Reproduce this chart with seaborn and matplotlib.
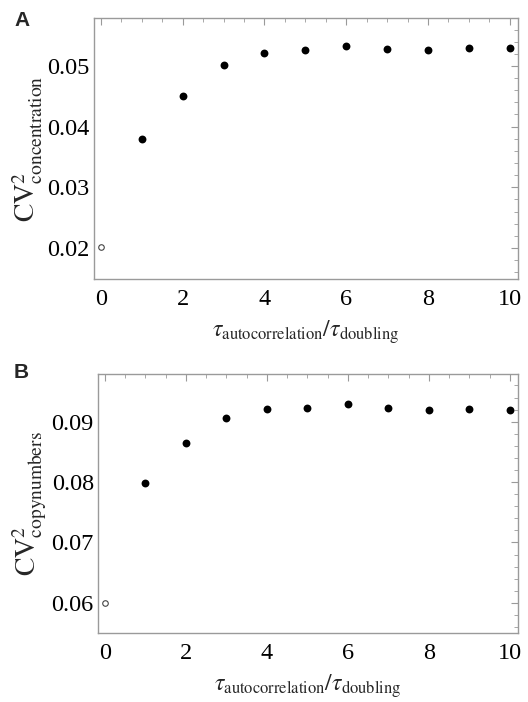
import numpy as np
import pandas as pd
import matplotlib
matplotlib.use("Agg")
import matplotlib.pyplot as plt
import seaborn as sns
from matplotlib.ticker import MultipleLocator

sns.set_style("white")
plt.rcParams['font.family'] = ['Liberation Serif', 'DejaVu Serif']
plt.rcParams['mathtext.fontset'] = 'stix'

# data
ratio = [0, 1, 2, 3, 4, 5, 6, 7, 8, 9, 10]
cv2_concentration = [0.0202, 0.0379, 0.0451, 0.0502, 0.0521, 0.0526, 0.0533, 0.0528, 0.0527, 0.0529, 0.0529]
cv2_copynumbers = [0.0600, 0.0799, 0.0865, 0.0906, 0.0921, 0.0923, 0.0929, 0.0923, 0.0920, 0.0921, 0.0920]
panel_letters = ["A", "B"]
y_labels = [r'$\mathrm{CV}^2_{\mathrm{concentration}}$', r'$\mathrm{CV}^2_{\mathrm{copynumbers}}$']
x_label = r'$\tau_{\mathrm{autocorrelation}}/\tau_{\mathrm{doubling}}$'

fig = plt.figure(figsize=(5.28, 7.02), dpi=100)
axA = fig.add_axes([0.178, 0.6026, 0.803, 0.3718])
axB = fig.add_axes([0.1856, 0.0983, 0.7955, 0.3689])

frame_col = '#9a9a9a'
specs = [
    (axA, cv2_concentration, (0.0149, 0.0579), 0.01, 0.002),
    (axB, cv2_copynumbers, (0.0550, 0.0979), 0.01, 0.002),
]
for i, (ax, vals, ylim, ymaj, ymin) in enumerate(specs):
    df = pd.DataFrame({'x': ratio[1:], 'y': vals[1:]})
    sns.scatterplot(data=df, x='x', y='y', ax=ax, color='black', s=32,
                    edgecolor='black', linewidth=0, zorder=3)
    df0 = pd.DataFrame({'x': ratio[:1], 'y': vals[:1]})
    sns.scatterplot(data=df0, x='x', y='y', ax=ax, facecolor='white', s=16,
                    edgecolor='#444444', linewidth=0.8, zorder=3)
    ax.set_xlim(-0.17, 10.2)
    ax.set_ylim(*ylim)
    ax.xaxis.set_major_locator(MultipleLocator(2))
    ax.xaxis.set_minor_locator(MultipleLocator(0.5))
    ax.yaxis.set_major_locator(MultipleLocator(ymaj))
    ax.yaxis.set_minor_locator(MultipleLocator(ymin))
    ax.yaxis.set_major_formatter(matplotlib.ticker.FuncFormatter(lambda v, p: f"{v:.2f}"))
    ax.tick_params(which='both', direction='in', top=True, right=True,
                   color=frame_col, labelsize=17.5, labelcolor='black')
    ax.tick_params(which='major', length=5, width=0.8, pad=3)
    ax.tick_params(which='minor', length=3, width=0.6)
    ax.tick_params(axis='x', which='major', pad=7)
    ax.tick_params(labeltop=False, labelright=False)
    for sp in ax.spines.values():
        sp.set_color(frame_col)
        sp.set_linewidth(1.0)
        sp.set_visible(True)
    ax.set_xlabel(x_label, fontsize=17, labelpad=6)
    ax.set_ylabel(y_labels[i], fontsize=20, labelpad=2)
    ax.grid(False)

fig.text(0.028, 0.971, panel_letters[0], fontsize=15, fontweight='bold',
         family='Liberation Sans', va='center')
fig.text(0.026, 0.47, panel_letters[1], fontsize=15, fontweight='bold',
         family='Liberation Sans', va='center')

fig.savefig('out.png', dpi=100)
